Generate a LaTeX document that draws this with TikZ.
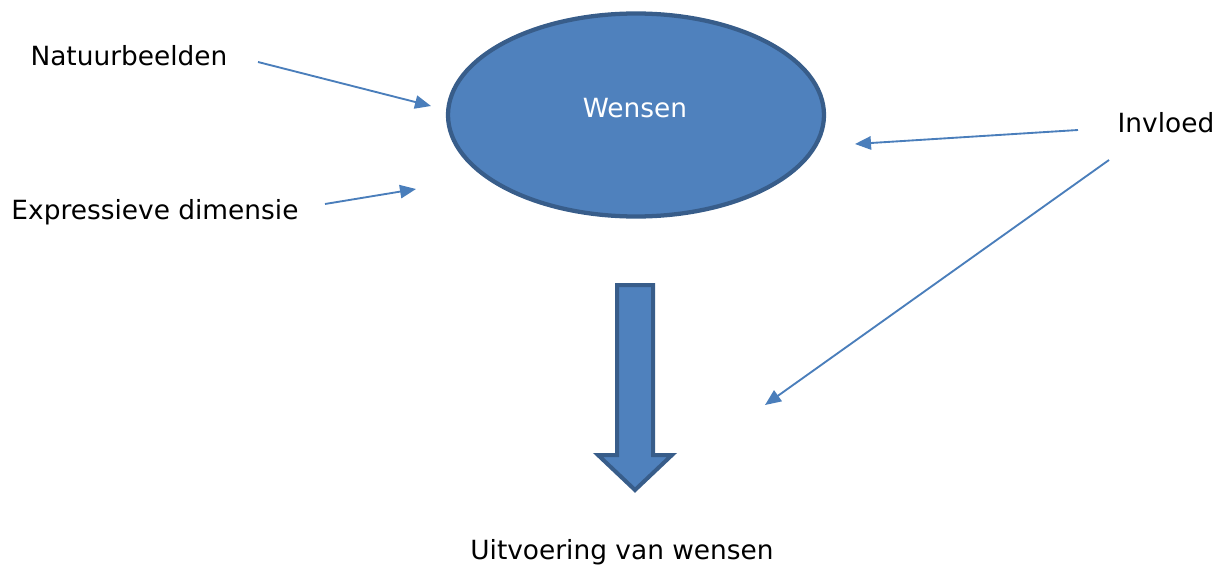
\documentclass[tikz,border=0pt]{standalone}
\usepackage{fontspec}
\setmainfont{DejaVu Sans}
\usetikzlibrary{arrows.meta,shapes.geometric}
\definecolor{fillblue}{HTML}{4F81BD}
\definecolor{edgeblue}{HTML}{385D8A}
\definecolor{lineblue}{HTML}{4A7EBB}
\tikzset{
  lbl/.style={font=\fontsize{19.8pt}{23pt}\selectfont, inner sep=0pt, anchor=center},
  conn/.style={draw=lineblue, line width=1.4pt, -{Triangle[length=12pt,width=10pt]}},
}
\begin{document}
\begin{tikzpicture}[x=0.75pt,y=-0.75pt]
\useasboundingbox (0,0) rectangle (1222,567);
\node[ellipse, minimum width=376*0.75pt, minimum height=203*0.75pt, fill=fillblue, draw=edgeblue, line width=3.2pt, inner sep=0pt] (wensen) at (636,115) {};
\node[lbl, text=white] (wt) at (635,108) {Wensen};
\node[lbl] (natuur) at (129,56) {Natuurbeelden};
\node[lbl] (expr) at (155,212) {Expressieve dimensie};
\node[lbl] (invloed) at (1166,123) {Invloed};
\node[lbl] (uitv) at (622,552) {Uitvoering van wensen};
\coordinate (n1) at (258,62);
\coordinate (n2) at (431,106);
\coordinate (e1) at (325,204);
\coordinate (e2) at (416,189);
\coordinate (i1) at (1078,130);
\coordinate (i2) at (855,144);
\coordinate (d1) at (1109,160);
\coordinate (d2) at (765,405);
\draw[conn] (n1) -- (n2);
\draw[conn] (e1) -- (e2);
\draw[conn] (i1) -- (i2);
\draw[conn] (d1) -- (d2);
\draw[fill=fillblue, draw=edgeblue, line width=3pt, line join=miter]
  (617,285) -- (653,285) -- (653,455) -- (672,455) -- (635,490) -- (598,455) -- (617,455) -- cycle;
\end{tikzpicture}
\end{document}
